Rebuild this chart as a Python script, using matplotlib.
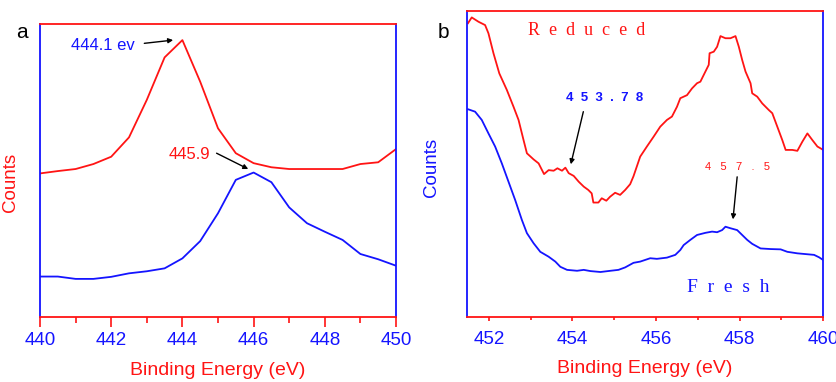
import numpy as np
import matplotlib
matplotlib.use("Agg")
import matplotlib.pyplot as plt

plt.rcParams['font.family'] = ['Liberation Sans', 'DejaVu Sans']

# panel a: Ce-type spectra (binding energy vs relative counts)
ea = [440, 440.5, 441, 441.5, 442, 442.5, 443, 443.5, 444, 444.5, 445, 445.5,
      446, 446.5, 447, 447.5, 448, 448.5, 449, 449.5, 450]
red_a = [49.0, 49.8, 50.5, 52.2, 54.7, 61.3, 74.1, 88.6, 94.5, 80.3, 64.4, 55.9,
         52.5, 51.1, 50.5, 50.5, 50.5, 50.5, 52.2, 52.8, 57.3]
blue_a = [13.8, 13.8, 13.0, 13.0, 13.7, 14.9, 15.6, 16.6, 20.0, 25.9, 35.4, 46.8,
          49.3, 46.0, 37.4, 32.0, 29.1, 26.3, 21.5, 19.7, 17.5]

# panel b: reduced
eb_red = [451.5, 451.59, 451.75, 451.91, 451.99, 452.11, 452.25, 452.43, 452.59,
          452.71, 452.83, 452.91, 453.07, 453.19, 453.32, 453.43, 453.55, 453.64,
          453.75, 453.83, 453.91, 454.03, 454.15, 454.27, 454.38, 454.46, 454.5,
          454.62, 454.7, 454.81, 454.9, 455.02, 455.14, 455.26, 455.38, 455.46,
          455.62, 455.78, 455.94, 456.1, 456.26, 456.38, 456.5, 456.58, 456.74,
          456.86, 456.98, 457.06, 457.14, 457.26, 457.28, 457.38, 457.46, 457.54,
          457.66, 457.78, 457.9, 457.98, 458.06, 458.14, 458.26, 458.3, 458.42,
          458.54, 458.7, 458.78, 458.9, 459.02, 459.1, 459.26, 459.38, 459.5,
          459.62, 459.74, 459.86, 460.0]
red_b = [96.0, 97.9, 96.5, 95.4, 92.7, 86.2, 79.6, 74.2, 68.7, 64.4, 57.8, 53.5,
         51.5, 50.2, 46.7, 48.0, 47.8, 48.6, 47.8, 48.8, 47.0, 46.1, 44.2, 42.6,
         41.5, 40.4, 37.4, 37.4, 38.8, 38.0, 39.3, 40.6, 39.9, 41.5, 43.4, 46.0,
         52.4, 55.7, 58.9, 62.2, 64.4, 65.5, 68.7, 71.5, 72.5, 74.7, 76.4, 76.9,
         79.1, 82.4, 86.2, 86.7, 88.3, 91.8, 91.1, 91.1, 91.8, 88.3, 84.0, 80.2,
         76.4, 73.1, 72.0, 69.8, 67.6, 66.6, 62.2, 57.8, 54.6, 54.6, 54.3, 57.3,
         60.0, 57.8, 55.7, 54.6]

# panel b: fresh
eb_blue = [451.5, 451.67, 451.83, 451.99, 452.15, 452.31, 452.47, 452.63, 452.79,
           452.91, 453.07, 453.23, 453.43, 453.59, 453.71, 453.87, 454.11, 454.27,
           454.43, 454.67, 454.91, 455.1, 455.26, 455.46, 455.62, 455.86, 456.02,
           456.26, 456.46, 456.58, 456.66, 456.82, 456.98, 457.18, 457.34, 457.46,
           457.58, 457.66, 457.78, 457.94, 458.06, 458.18, 458.3, 458.5, 458.74,
           458.98, 459.14, 459.38, 459.54, 459.78, 459.9, 460.0]
blue_b = [67.9, 67.1, 64.4, 60.0, 55.7, 50.2, 44.2, 38.2, 31.7, 27.4, 24.1, 21.3,
          19.7, 18.1, 16.4, 15.4, 15.1, 15.4, 15.0, 14.7, 15.1, 15.4, 16.2, 17.7,
          18.1, 19.2, 19.0, 19.4, 20.3, 21.9, 23.5, 25.2, 26.8, 27.5, 27.9, 27.7,
          28.4, 29.5, 29.0, 28.4, 26.8, 25.2, 23.9, 22.4, 22.2, 22.1, 21.3, 20.8,
          20.6, 20.3, 19.5, 18.6]

RED = '#ff1414'
BLUE = '#1414ff'

fig = plt.figure(figsize=(8.37, 3.82), dpi=100)
axa = fig.add_axes([0.0478, 0.1702, 0.4253, 0.767])
axb = fig.add_axes([0.5576, 0.1702, 0.426, 0.801])


def style(ax, xlim, major_len, minor_len):
    ax.set_xlim(*xlim)
    ax.set_ylim(0, 100)
    for s in ['top', 'bottom']:
        ax.spines[s].set_color(RED)
    for s in ['left', 'right']:
        ax.spines[s].set_color(BLUE)
    for s in ax.spines.values():
        s.set_linewidth(1.3)
    ax.set_yticks([])
    ax.set_xticks(np.arange(np.ceil(xlim[0] / 2) * 2, xlim[1] + 0.1, 2))
    ax.set_xticks(np.arange(np.ceil(xlim[0]), xlim[1] + 0.1, 1), minor=True)
    ax.tick_params(axis='x', which='major', direction='out', length=major_len,
                   width=1.2, color=RED, labelcolor=BLUE, labelsize=13.5,
                   pad=9 - major_len * 0.7)
    ax.tick_params(axis='x', which='minor', direction='out', length=minor_len,
                   width=1.2, color=RED)
    ax.set_xlabel('Binding Energy (eV)', color=RED, fontsize=14, labelpad=9)
    ax.xaxis.set_major_formatter(matplotlib.ticker.FormatStrFormatter('%d'))


style(axa, (440, 450), 7, 4)
style(axb, (451.47, 460), 3, 2.5)

axa.plot(ea, red_a, color=RED, lw=1.3)
axa.plot(ea, blue_a, color=BLUE, lw=1.3)
axa.set_ylabel('Counts', color=RED, fontsize=13.5)
axa.yaxis.set_label_coords(-0.060, 0.459)

axb.plot(eb_red, red_b, color=RED, lw=1.3)
axb.plot(eb_blue, blue_b, color=BLUE, lw=1.3)
axb.set_ylabel('Counts', color=BLUE, fontsize=13.5)
axb.yaxis.set_label_coords(-0.076, 0.489)

arrow = dict(arrowstyle='-|>', color='k', lw=1.0, mutation_scale=7,
             shrinkA=0, shrinkB=0)

axa.annotate('444.1 ev', xy=(443.74, 94.5), xytext=(441.77, 92.8),
             color=BLUE, fontsize=12, ha='center', va='center')
axa.annotate('', xy=(443.74, 94.5), xytext=(442.93, 93.4), arrowprops=arrow)
axa.annotate('445.9', xy=(445.85, 50.5), xytext=(444.21, 55.6),
             color=RED, fontsize=12, ha='center', va='center')
axa.annotate('', xy=(445.85, 50.5), xytext=(444.96, 55.9), arrowprops=arrow)

axb.text(454.33, 93.5, 'R  e  d  u  c  e  d', color=RED, fontsize=13,
         family='Liberation Serif', ha='center', va='center')
axb.text(457.73, 9.5, 'F  r  e  s  h', color=BLUE, fontsize=14,
         family='Liberation Serif', ha='center', va='center')
axb.text(454.76, 71.6, '4  5  3  .  7  8', color=BLUE, fontsize=9.5,
         fontweight='bold', ha='center', va='center')
axb.annotate('', xy=(453.96, 49.9), xytext=(454.26, 67.1), arrowprops=arrow)
axb.text(457.94, 49.0, '4   5   7   .   5', color=RED, fontsize=8,
         ha='center', va='center')
axb.annotate('', xy=(457.84, 31.9), xytext=(457.94, 45.8), arrowprops=arrow)

fig.text(22 / 837, 1 - 32 / 382, 'a', fontsize=15, ha='center', va='center')
fig.text(443 / 837, 1 - 32 / 382, 'b', fontsize=15, ha='center', va='center')

fig.savefig('out.png', dpi=100)
